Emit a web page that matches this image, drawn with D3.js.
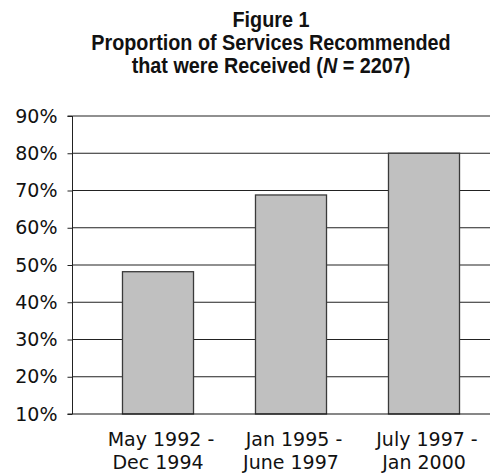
<!DOCTYPE html>
<html>
<head>
<meta charset="utf-8">
<script src="https://cdn.jsdelivr.net/npm/d3@7"></script>
<style>
  html, body { margin: 0; padding: 0; background: #fff; }
  svg { display: block; }
</style>
</head>
<body>
<svg id="chart" width="490" height="475"></svg>
<script>
// Study periods (two-line labels) and share of recommended services received
const periodLine1 = ["May 1992 -", "Jan 1995 -", "July 1997 -"];
const periodLine2 = ["Dec 1994", "June 1997", "Jan 2000"];
const received = [0.482, 0.688, 0.80];
const yTicks = [0.1, 0.2, 0.3, 0.4, 0.5, 0.6, 0.7, 0.8, 0.9];

const svg = d3.select("#chart");
const W = 490;

const axisX = 72.5;
const y = d3.scaleLinear().domain([0.1, 0.9]).range([414, 116]);
const x = d3.scaleBand()
  .domain(periodLine1)
  .range([91.5, 490.5])
  .paddingInner(0.466)
  .paddingOuter(0.233);

// Title: condensed bold look via horizontal squeeze
const title = svg.append("g")
  .attr("transform", "translate(271,0) scale(0.9,1)")
  .append("text")
  .attr("text-anchor", "middle")
  .attr("font-family", "'Liberation Sans', Arial, sans-serif")
  .attr("font-weight", "bold")
  .attr("font-size", 22)
  .attr("fill", "#111");
title.append("tspan").attr("x", 0).attr("y", 27).text("Figure 1");
title.append("tspan").attr("x", 0).attr("y", 50).text("Proportion of Services Recommended");
const l3 = title.append("tspan").attr("x", 0).attr("y", 73);
l3.append("tspan").text("that were Received (");
l3.append("tspan").attr("font-style", "italic").text("N");
l3.append("tspan").text(" = 2207)");

// Horizontal gridlines
svg.append("g")
  .selectAll("line")
  .data(yTicks.slice(1))
  .join("line")
  .attr("x1", axisX).attr("x2", W)
  .attr("y1", d => y(d)).attr("y2", d => y(d))
  .attr("stroke", "#222").attr("stroke-width", 1.1);

// Bars
svg.append("g")
  .selectAll("rect")
  .data(received)
  .join("rect")
  .attr("x", (d, i) => x(periodLine1[i]))
  .attr("width", x.bandwidth())
  .attr("y", d => y(d))
  .attr("height", d => y(0.1) - y(d))
  .attr("fill", "#c0c0c0")
  .attr("stroke", "#3a3a3a")
  .attr("stroke-width", 1.3);

// Y axis
const yAxis = d3.axisLeft(y)
  .tickValues(yTicks)
  .tickFormat(d3.format(".0%"))
  .tickSize(5)
  .tickPadding(10);
const gy = svg.append("g").attr("transform", `translate(${axisX},0)`).call(yAxis);
gy.select(".domain").attr("stroke", "#222").attr("d", `M-5,${y(0.9)}H0V${y(0.1)}H-5`);
gy.selectAll(".tick line").attr("stroke", "#222");
gy.selectAll(".tick text")
  .attr("font-family", "'DejaVu Sans', sans-serif")
  .attr("font-size", 19)
  .attr("fill", "#111");

// X axis baseline
svg.append("line")
  .attr("x1", axisX).attr("x2", W)
  .attr("y1", y(0.1)).attr("y2", y(0.1))
  .attr("stroke", "#111").attr("stroke-width", 1.2);

// Category labels
const lab = svg.append("g")
  .attr("font-family", "'DejaVu Sans', sans-serif")
  .attr("font-size", 19)
  .attr("fill", "#111")
  .attr("text-anchor", "middle");
periodLine1.forEach((p, i) => {
  const cx = x(p) + x.bandwidth() / 2;
  const t = lab.append("text");
  t.append("tspan").attr("x", cx + 3).attr("y", 446).text(p);
  t.append("tspan").attr("x", cx).attr("y", 469).text(periodLine2[i]);
});
</script>
</body>
</html>
